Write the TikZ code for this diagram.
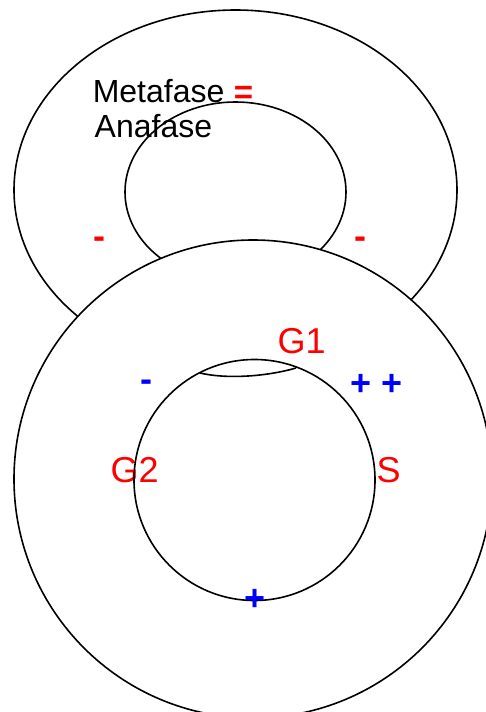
\documentclass[tikz,border=0pt]{standalone}
\usepackage{fontspec}
\setmainfont{Liberation Sans}
\begin{document}
\begin{tikzpicture}[x=1pt,y=-1pt,
  ln/.style={line width=1.6pt, black},
  txt/.style={inner sep=0pt, font=\fontsize{32}{36}\selectfont},
  lab/.style={inner sep=0pt, font=\fontsize{36}{40}\selectfont},
  sign/.style={inner sep=0pt, font=\fontsize{36}{40}\selectfont\bfseries},
  redlab/.style={lab, text=red},
  bluelab/.style={lab, text=blue},
  redsign/.style={sign, text=red},
  bluesign/.style={sign, text=blue}]
\useasboundingbox (0,0) rectangle (485,712);
% upper ring
\draw[ln] (235.5,190) ellipse [x radius=221.5pt, y radius=180pt];
\draw[ln] (235.5,192) ellipse [x radius=110.5pt, y radius=90pt];
\node[txt, anchor=base west] (meta) at (92.6,102) {Metafase};
\node[txt, anchor=base west] (ana) at (94.5,137) {Anafase};
\node[redsign, font=\fontsize{33}{38}\selectfont\bfseries] (eq) at (243.4,94.5) {=};
\node[redsign] (m1) at (99.5,243) {-};
\node[redsign] (m2) at (360.5,243) {-};
% lower ring
\draw[ln, fill=white] (253,479) circle [radius=239pt];
\node[redlab, anchor=base west] (g1) at (277.3,353) {G1};
\node[redlab, anchor=base west] (g2) at (110.3,482) {G2};
\node[redlab, anchor=base west] (s) at (376.3,482) {S};
\node[bluesign] (bm) at (146.7,385.3) {-};
\node[bluesign] (pp) at (377,384.5) {+ +};
\draw[ln] (254.5,480) circle [radius=120.5pt];
\draw[ln] (200,373) .. controls (225,379) and (265,377) .. (296,368);
\node[bluesign] (bp) at (255,600) {+};
\end{tikzpicture}
\end{document}
